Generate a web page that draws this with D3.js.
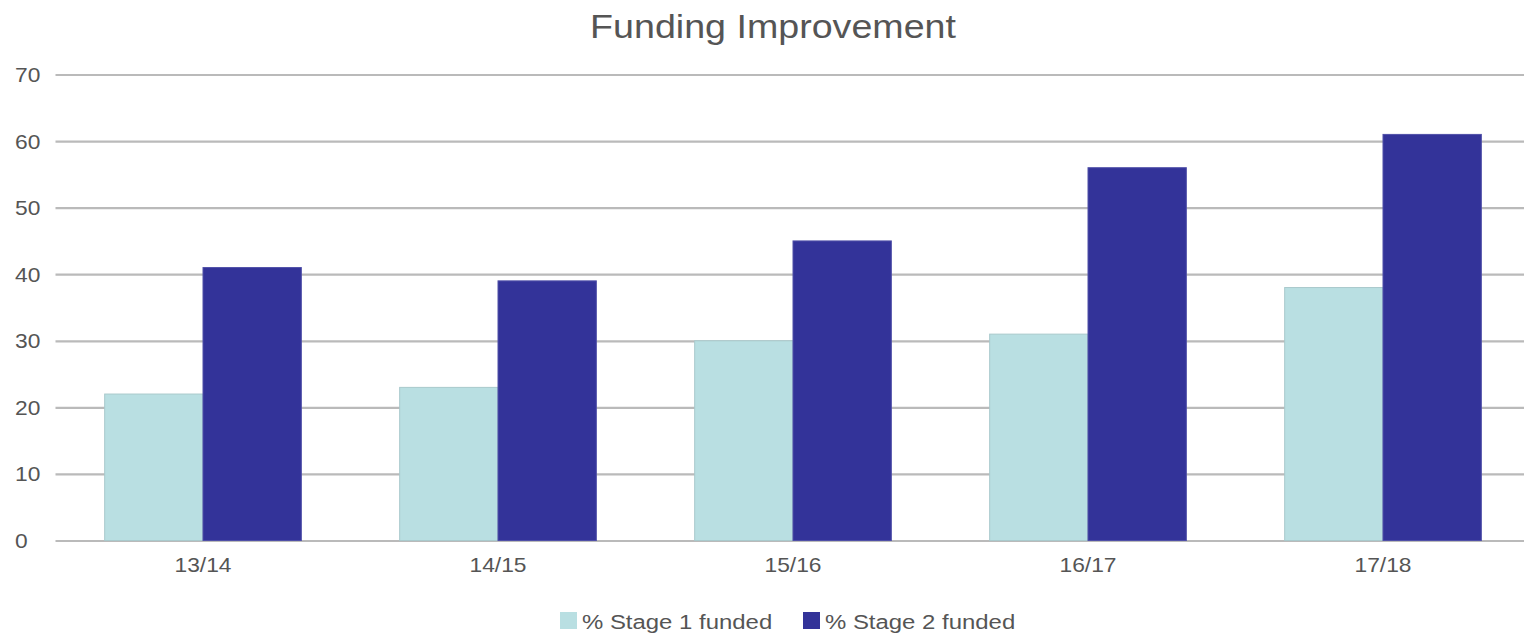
<!DOCTYPE html>
<html lang="en">
<head>
    <meta charset="UTF-8">
    <title>Funding Improvement</title>
    <script src="https://d3js.org/d3.v7.min.js"></script>
    <style>
        body { margin: 0; background: #fff; }
        svg { display: block; font-family: "Liberation Sans", Arial, sans-serif; }
    </style>
</head>
<body>
    <svg width="1524" height="634"></svg>

    <script>
        // Chart data
        const years = ["13/14", "14/15", "15/16", "16/17", "17/18"];
        const stage1 = [22, 23, 30, 31, 38];
        const stage2 = [41, 39, 45, 56, 61];
        const seriesNames = ["% Stage 1 funded", "% Stage 2 funded"];
        const seriesColors = ["#b9dfe2", "#333399"];
        const yTicks = [0, 10, 20, 30, 40, 50, 60, 70];

        const svg = d3.select("svg");

        // the source image text is a bit wide, so stretch it horizontally
        const stretch = 1.14;
        const textColor = "#555";

        // Plot area
        const plot = { left: 55.5, right: 1530.5, top: 74.5, bottom: 540.5 };

        const xScale = d3.scaleBand()
                         .domain(years)
                         .range([plot.left, plot.right])
                         .paddingInner(1 / 3)
                         .paddingOuter(1 / 6);

        const inner = d3.scaleBand()
                        .domain([0, 1])
                        .range([0, xScale.bandwidth()]);

        const yScale = d3.scaleLinear()
                         .domain([0, 70])
                         .range([plot.bottom, plot.top]);

        // Title
        svg.append("text")
           .attr("transform", `translate(773,38) scale(${stretch},1)`)
           .attr("text-anchor", "middle")
           .style("font-size", "33px")
           .style("fill", textColor)
           .text("Funding Improvement");

        // Gridlines + y labels
        const yAxis = svg.append("g")
           .attr("transform", `translate(${plot.left},0)`)
           .call(d3.axisLeft(yScale).tickValues(yTicks).tickSize(-(plot.right - plot.left)));

        yAxis.select(".domain").remove();
        yAxis.selectAll(".tick line")
             .attr("stroke", "#bababa")
             .attr("stroke-width", 2.2);
        yAxis.selectAll(".tick text")
             .style("font-size", "20px")
             .style("font-family", "\"Liberation Sans\", Arial, sans-serif")
             .attr("fill", textColor)
             .attr("text-anchor", "start")
             .attr("transform", `scale(${stretch},1)`)
             .attr("x", (15 - plot.left) / stretch)
             .attr("dy", "0.35em");

        // Bars
        const rows = years.map((y, i) => ({ year: y, values: [stage1[i], stage2[i]] }));

        const groups = svg.append("g")
           .selectAll("g")
           .data(rows)
           .enter()
           .append("g")
           .attr("transform", d => `translate(${xScale(d.year)},0)`);

        groups.selectAll("rect")
              .data(d => d.values.map((v, k) => ({ k, v })))
              .enter()
              .append("rect")
              .attr("x", d => inner(d.k))
              .attr("y", d => yScale(d.v))
              .attr("width", inner.bandwidth())
              .attr("height", d => plot.bottom - yScale(d.v))
              .attr("fill", d => seriesColors[d.k])
              .attr("stroke", d => d.k === 0 ? "#a9c9cc" : "#5050a8")
              .attr("stroke-width", 1);

        // X labels
        const xAxis = svg.append("g")
           .attr("transform", `translate(0,${plot.bottom})`)
           .call(d3.axisBottom(xScale).tickSize(0));

        xAxis.select(".domain").remove();
        xAxis.selectAll(".tick text")
             .style("font-size", "20px")
             .style("font-family", "\"Liberation Sans\", Arial, sans-serif")
             .attr("fill", textColor)
             .attr("transform", `scale(${stretch},1)`)
             .attr("y", 32)
             .attr("dy", 0);

        // Legend
        const legend = svg.append("g");
        const legendX = [560, 803];
        seriesNames.forEach((name, i) => {
            legend.append("rect")
                  .attr("x", legendX[i])
                  .attr("y", 612)
                  .attr("width", 17)
                  .attr("height", 17)
                  .attr("fill", seriesColors[i]);
            legend.append("text")
                  .attr("transform", `translate(${legendX[i] + 22},628.5) scale(${stretch},1)`)
                  .style("font-size", "21px")
                  .style("fill", textColor)
                  .text(name);
        });
    </script>
</body>
</html>
